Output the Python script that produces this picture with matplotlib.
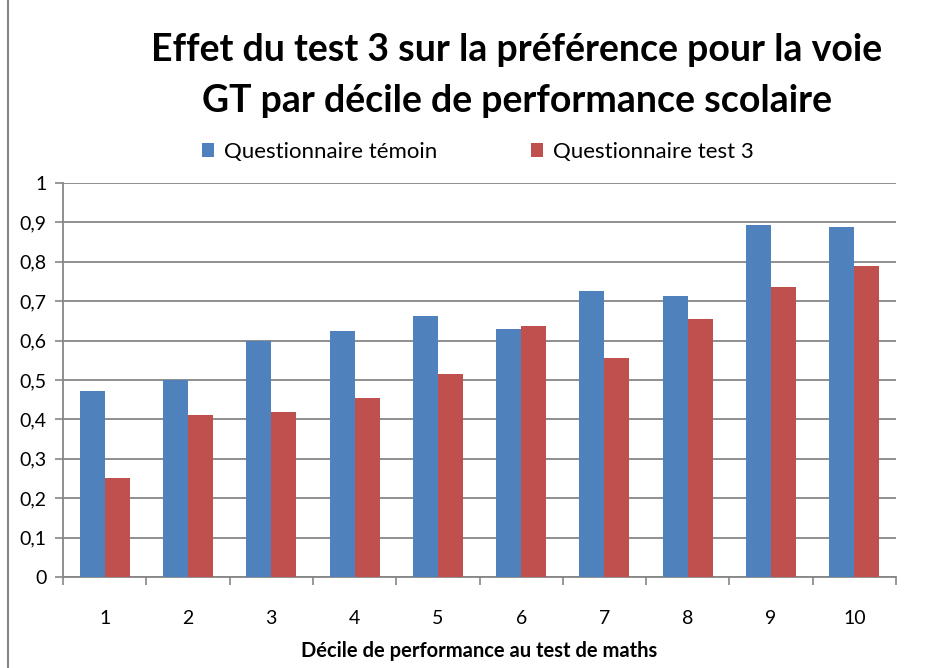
import numpy as np
import matplotlib.pyplot as plt
from matplotlib.patches import Rectangle
from matplotlib.ticker import FuncFormatter

plt.rcParams['font.family'] = ['Lato', 'DejaVu Sans']

deciles = ['1', '2', '3', '4', '5', '6', '7', '8', '9', '10']
temoin = [0.472, 0.500, 0.599, 0.624, 0.662, 0.629, 0.726, 0.713, 0.893, 0.888]
test3 = [0.251, 0.411, 0.419, 0.454, 0.515, 0.637, 0.556, 0.655, 0.736, 0.789]

W, H = 925, 668
fig = plt.figure(figsize=(W / 100, H / 100), dpi=100)
ax = fig.add_axes([63 / W, 1 - 577 / H, (896 - 63) / W, (577 - 183) / H])

x = np.arange(len(deciles))
bw = 0.3
ax.bar(x - bw / 2, temoin, bw, color='#4f81bd', label='Questionnaire témoin', zorder=3)
ax.bar(x + bw / 2, test3, bw, color='#c0504d', label='Questionnaire test 3', zorder=3)

ax.set_xlim(-0.5, len(deciles) - 0.5)
ax.set_ylim(0, 1)
ax.set_yticks(np.arange(0, 1.01, 0.1))
ax.yaxis.set_major_formatter(FuncFormatter(
    lambda v, p: '0' if abs(v) < 1e-9 else ('1' if abs(v - 1) < 1e-9 else f'{v:.1f}'.replace('.', ','))))
ax.set_xticks(x)
ax.set_xticklabels(deciles)
ax.set_xticks(np.arange(-0.5, len(deciles)), minor=True)
ax.tick_params(axis='x', which='major', length=0, pad=24, labelsize=14)
ax.tick_params(axis='x', which='minor', length=6, color='#868686', width=1.2)
ax.tick_params(axis='y', length=6, color='#868686', width=1.2, labelsize=14, pad=6)
ax.grid(axis='y', color='#868686', linewidth=1.3, zorder=0)
for s in ['top', 'right']:
    ax.spines[s].set_visible(False)
for s in ['left', 'bottom']:
    ax.spines[s].set_color('#868686')
    ax.spines[s].set_linewidth(1.3)

ax.set_xlabel('Décile de performance au test de maths', fontsize=14.5, fontweight='bold', labelpad=10)

fig.text(517 / W, 1 - 50 / H, 'Effet du test 3 sur la préférence pour la voie',
         ha='center', va='center', fontsize=27, fontweight='bold')
fig.text(517 / W, 1 - 101 / H, 'GT par décile de performance scolaire',
         ha='center', va='center', fontsize=27, fontweight='bold')

fig.legend(loc='center', bbox_to_anchor=(478 / W, 1 - 152 / H), ncol=2, frameon=False,
           fontsize=16, handlelength=0.55, handleheight=0.55, columnspacing=4.2, handletextpad=0.45)

fig.patches.append(Rectangle((8 / W, -0.01), 1.0, 1.02, transform=fig.transFigure,
                             fill=False, edgecolor='#868686', linewidth=1.5))

fig.savefig('out.png', dpi=100)
